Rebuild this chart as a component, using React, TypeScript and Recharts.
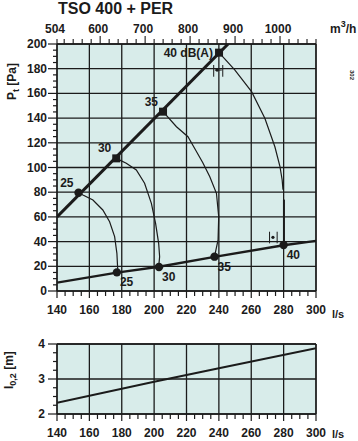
import React from "react";
import {
  ComposedChart,
  Line,
  Scatter,
  XAxis,
  YAxis,
  CartesianGrid,
  ReferenceLine,
  ReferenceDot,
} from "recharts";

// axis labels
const flowLabels = [140, 160, 180, 200, 220, 240, 260, 280, 300];
const pressureLabels = [0, 20, 40, 60, 80, 100, 120, 140, 160, 180, 200];
const m3hLabels = [504, 600, 700, 800, 900, 1000];
const throwLabels = [2, 3, 4];

// m³/h range matching 140..300 l/s, only used to span the top axis
const m3hSpan = [
  { m: 504, p: null },
  { m: 1080, p: null },
];

// system lines (l/s, Pa)
const upperSystem = [
  { q: 140, p: 60 },
  { q: 245.7, p: 200 },
];
const lowerSystem = [
  { q: 140, p: 6.8 },
  { q: 177, p: 14.9 },
  { q: 203, p: 19.6 },
  { q: 237.3, p: 27.6 },
  { q: 280, p: 37 },
  { q: 300, p: 40.6 },
];

// constant sound level curves, dB(A)
const curve25 = [
  { q: 153.3, p: 79.6 },
  { q: 156, p: 77.7 },
  { q: 162.2, p: 73.7 },
  { q: 168.3, p: 65.6 },
  { q: 172.5, p: 56.1 },
  { q: 175.6, p: 44 },
  { q: 177, p: 30.5 },
  { q: 177.6, p: 15.1 },
];
const curve30 = [
  { q: 176.6, p: 107.4 },
  { q: 182.8, p: 103.4 },
  { q: 189, p: 98 },
  { q: 194.1, p: 87.2 },
  { q: 198.3, p: 71 },
  { q: 200.9, p: 54.8 },
  { q: 202.8, p: 38.6 },
  { q: 203.4, p: 27.8 },
  { q: 202.8, p: 19.4 },
];
const curve35 = [
  { q: 205.5, p: 145.2 },
  { q: 213.8, p: 133 },
  { q: 220.9, p: 124.9 },
  { q: 225.6, p: 114.2 },
  { q: 230, p: 104 },
  { q: 234.4, p: 92.5 },
  { q: 238.5, p: 79.1 },
  { q: 239.9, p: 60.2 },
  { q: 239.5, p: 41.3 },
  { q: 237.3, p: 27.8 },
];
const curve40Top = [
  { q: 240.1, p: 193 },
  { q: 249.8, p: 179 },
  { q: 260.2, p: 161.4 },
  { q: 268.4, p: 139.8 },
  { q: 274.6, p: 116.8 },
  { q: 277.7, p: 101 },
  { q: 279.1, p: 89.9 },
  { q: 279.6, p: 82 },
];
const curve40Bottom = [
  { q: 280.2, p: 74 },
  { q: 280.2, p: 37.2 },
];

const upperPoints = [
  { q: 153.3, p: 79.6, db: 25 },
  { q: 176.6, p: 107.4, db: 30 },
  { q: 205.5, p: 145.2, db: 35 },
  { q: 240.1, p: 193, db: 40 },
];
const upperText = ["25", "30", "35", "40 dB(A)"];
const lowerPoints = [
  { q: 177, p: 15.1, db: 25 },
  { q: 203, p: 19.4, db: 30 },
  { q: 237.3, p: 27.8, db: 35 },
  { q: 280, p: 37.2, db: 40 },
];

// throw l0,2 in m
const throwLine = [
  { q: 140, t: 2.32 },
  { q: 200, t: 2.92 },
  { q: 240, t: 3.31 },
  { q: 300, t: 3.88 },
];

const FONT = "'Liberation Sans', Arial, Helvetica, sans-serif";
const INK = "#1b1b1b";
const PLOT_BG = "#d8ecea";
const W = 358;

const steps = (from: number, to: number, step: number) => {
  const out: number[] = [];
  for (let v = from; v <= to + 1e-9; v += step) out.push(Math.round(v * 1000) / 1000);
  return out;
};

const textStyle = { fontFamily: FONT, fontWeight: 700, fontSize: 11, fill: INK } as const;

const FlowTick = ({ x, y, payload }: any) => {
  const major = flowLabels.includes(payload.value);
  return (
    <g>
      <line x1={x} x2={x} y1={y} y2={y + (major ? 7 : 5)} stroke={INK} strokeWidth={1.2} />
      {major && (
        <text x={x} y={y + 23} textAnchor="middle" {...textStyle} fontSize={12}>
          {payload.value}
        </text>
      )}
    </g>
  );
};

const PressureTick = ({ x, y, payload }: any) => {
  const major = pressureLabels.includes(payload.value);
  return (
    <g>
      <line x1={x - (major ? 9 : 4)} x2={x} y1={y} y2={y} stroke={INK} strokeWidth={1.2} />
      {major && (
        <text x={x - 10} y={y + 4} textAnchor="end" {...textStyle} fontSize={12}>
          {payload.value}
        </text>
      )}
    </g>
  );
};

const ThrowTick = ({ x, y, payload }: any) => {
  const major = throwLabels.includes(payload.value);
  return (
    <g>
      <line x1={x - (major ? 9 : 4)} x2={x} y1={y} y2={y} stroke={INK} strokeWidth={1.2} />
      {major && (
        <text x={x - 12} y={y + 4} textAnchor="end" {...textStyle} fontSize={12}>
          {payload.value}
        </text>
      )}
    </g>
  );
};

const M3hTick = ({ x, y, payload }: any) => {
  const v = payload.value;
  const major = v % 100 === 0;
  return (
    <g>
      <line x1={x} x2={x} y1={y} y2={y - (major ? 8 : 5)} stroke={INK} strokeWidth={1.1} />
      {m3hLabels.includes(v) && (
        <text x={x - 2} y={y - 11} textAnchor="middle" {...textStyle} fontSize={12}>
          {v}
        </text>
      )}
    </g>
  );
};

const UpperMarker = (props: any) => {
  const { cx, cy, index } = props;
  const db = upperPoints[index]?.db;
  const last = index === upperPoints.length - 1;
  return (
    <g>
      {db === 25 ? (
        <circle cx={cx} cy={cy} r={4.2} fill={INK} />
      ) : (
        <rect x={cx - 4} y={cy - 4} width={8} height={8} fill={INK} />
      )}
      <text
        x={last ? cx - 6 : cx - 5}
        y={last ? cy + 4 : cy - 6}
        textAnchor="end"
        {...textStyle}
        fontSize={12}
      >
        {upperText[index]}
      </text>
    </g>
  );
};

const LowerMarker = (props: any) => {
  const { cx, cy, index } = props;
  return (
    <g>
      <circle cx={cx} cy={cy} r={4.2} fill={INK} />
      <text x={cx + 3} y={cy + 14} textAnchor="start" {...textStyle} fontSize={12}>
        {lowerPoints[index]?.db}
      </text>
    </g>
  );
};

const curveProps = {
  dataKey: "p",
  type: "linear" as const,
  stroke: INK,
  strokeWidth: 1.2,
  dot: false,
  activeDot: false,
  isAnimationActive: false,
  legendType: "none" as const,
};

export default function App() {
  return (
    <div style={{ position: "absolute", left: 0, top: 0, width: W, height: 441, background: "#fff" }}>
      <svg width={W} height={441} style={{ position: "absolute", left: 0, top: 0 }}>
        <text x={58} y={14} {...textStyle} fontSize={16}>
          TSO 400 + PER
        </text>
        <text x={330} y={33} {...textStyle} fontSize={12}>
          m
          <tspan dy={-6} fontSize={9}>3</tspan>
          <tspan dy={6}>/h</tspan>
        </text>
        <text transform="translate(16,100) rotate(-90)" {...textStyle} fontSize={12}>
          P<tspan dy={3} fontSize={9}>t</tspan>
          <tspan dy={-3}> [Pa]</tspan>
        </text>
        <text x={332} y={318} {...textStyle} fontSize={11}>
          l/s
        </text>
        <text transform="translate(350,70) rotate(90)" {...textStyle} fontSize={6}>
          302
        </text>
        <text transform="translate(13,389) rotate(-90)" {...textStyle} fontSize={12}>
          l<tspan dy={3} fontSize={9}>0,2</tspan>
          <tspan dy={-3}> [m]</tspan>
        </text>
        <text x={332} y={438} {...textStyle} fontSize={11}>
          l/s
        </text>
      </svg>

      <div style={{ position: "absolute", left: 0, top: 0 }}>
        <ComposedChart width={W} height={320} margin={{ top: 14, right: 42, bottom: 9, left: 17 }}>
          <CartesianGrid
            fill={PLOT_BG}
            fillOpacity={1}
            stroke={INK}
            strokeWidth={1.3}
            horizontalValues={pressureLabels}
            verticalValues={flowLabels}
          />
          <XAxis
            dataKey="q"
            type="number"
            domain={[140, 300]}
            allowDataOverflow
            ticks={steps(140, 300, 5)}
            interval={0}
            tick={<FlowTick />}
            tickSize={0}
            tickMargin={0}
            height={20}
            stroke={INK}
            strokeWidth={1.3}
          />
          <XAxis
            xAxisId="top"
            dataKey="m"
            orientation="top"
            type="number"
            domain={[504, 1080]}
            allowDataOverflow
            ticks={[504, ...steps(520, 1080, 20)]}
            interval={0}
            tick={<M3hTick />}
            tickSize={0}
            tickMargin={0}
            height={30}
            axisLine={false}
          />
          <YAxis
            dataKey="p"
            type="number"
            domain={[0, 200]}
            allowDataOverflow
            ticks={steps(0, 200, 5)}
            interval={0}
            tick={<PressureTick />}
            tickSize={0}
            tickMargin={0}
            width={40}
            stroke={INK}
            strokeWidth={1.3}
          />
          <ReferenceLine y={200} stroke={INK} strokeWidth={1.3} />
          <ReferenceLine x={300} stroke={INK} strokeWidth={1.3} />
          <Line
            xAxisId="top"
            data={m3hSpan}
            dataKey="p"
            stroke="none"
            dot={false}
            activeDot={false}
            isAnimationActive={false}
          />
          <Line data={curve25} {...curveProps} />
          <Line data={curve30} {...curveProps} />
          <Line data={curve35} {...curveProps} />
          <Line data={curve40Top} {...curveProps} />
          <Line data={curve40Bottom} {...curveProps} strokeWidth={2} />
          <Line
            data={upperSystem}
            dataKey="p"
            type="linear"
            stroke={INK}
            strokeWidth={3}
            dot={false}
            activeDot={false}
            isAnimationActive={false}
          />
          <Line
            data={lowerSystem}
            dataKey="p"
            type="linear"
            stroke={INK}
            strokeWidth={2.4}
            dot={false}
            activeDot={false}
            isAnimationActive={false}
          />
          <ReferenceLine segment={[{ x: 236.8, y: 173.5 }, { x: 236.8, y: 183 }]} stroke={INK} strokeWidth={1} />
          <ReferenceLine segment={[{ x: 242.4, y: 173.5 }, { x: 242.4, y: 183 }]} stroke={INK} strokeWidth={1} />
          <ReferenceLine segment={[{ x: 237.5, y: 178.9 }, { x: 241.8, y: 178.9 }]} stroke={INK} strokeWidth={1} />
          <ReferenceDot x={238.9} y={178.9} r={1.6} fill={INK} stroke="none" />
          <ReferenceLine segment={[{ x: 271.3, y: 38.6 }, { x: 271.3, y: 48 }]} stroke={INK} strokeWidth={1} />
          <ReferenceLine segment={[{ x: 276, y: 38.6 }, { x: 276, y: 48 }]} stroke={INK} strokeWidth={1} />
          <ReferenceDot x={273.4} y={43.5} r={1.6} fill={INK} stroke="none" />
          <Scatter data={upperPoints} dataKey="p" shape={<UpperMarker />} isAnimationActive={false} />
          <Scatter data={lowerPoints} dataKey="p" shape={<LowerMarker />} isAnimationActive={false} />
        </ComposedChart>
      </div>

      <div style={{ position: "absolute", left: 0, top: 320 }}>
        <ComposedChart width={W} height={121} margin={{ top: 24, right: 42, bottom: 0, left: 17 }}>
          <CartesianGrid
            fill={PLOT_BG}
            fillOpacity={1}
            stroke={INK}
            strokeWidth={1.3}
            horizontalValues={throwLabels}
            verticalValues={flowLabels}
          />
          <XAxis
            dataKey="q"
            type="number"
            domain={[140, 300]}
            allowDataOverflow
            ticks={steps(140, 300, 5)}
            interval={0}
            tick={<FlowTick />}
            tickSize={0}
            tickMargin={0}
            height={27}
            stroke={INK}
            strokeWidth={1.3}
          />
          <YAxis
            dataKey="t"
            type="number"
            domain={[2, 4]}
            allowDataOverflow
            ticks={steps(2, 4, 0.25)}
            interval={0}
            tick={<ThrowTick />}
            tickSize={0}
            tickMargin={0}
            width={40}
            stroke={INK}
            strokeWidth={1.3}
          />
          <ReferenceLine y={4} stroke={INK} strokeWidth={1.3} />
          <ReferenceLine x={300} stroke={INK} strokeWidth={1.3} />
          <Line
            data={throwLine}
            dataKey="t"
            type="linear"
            stroke={INK}
            strokeWidth={2}
            dot={false}
            activeDot={false}
            isAnimationActive={false}
          />
        </ComposedChart>
      </div>
    </div>
  );
}
